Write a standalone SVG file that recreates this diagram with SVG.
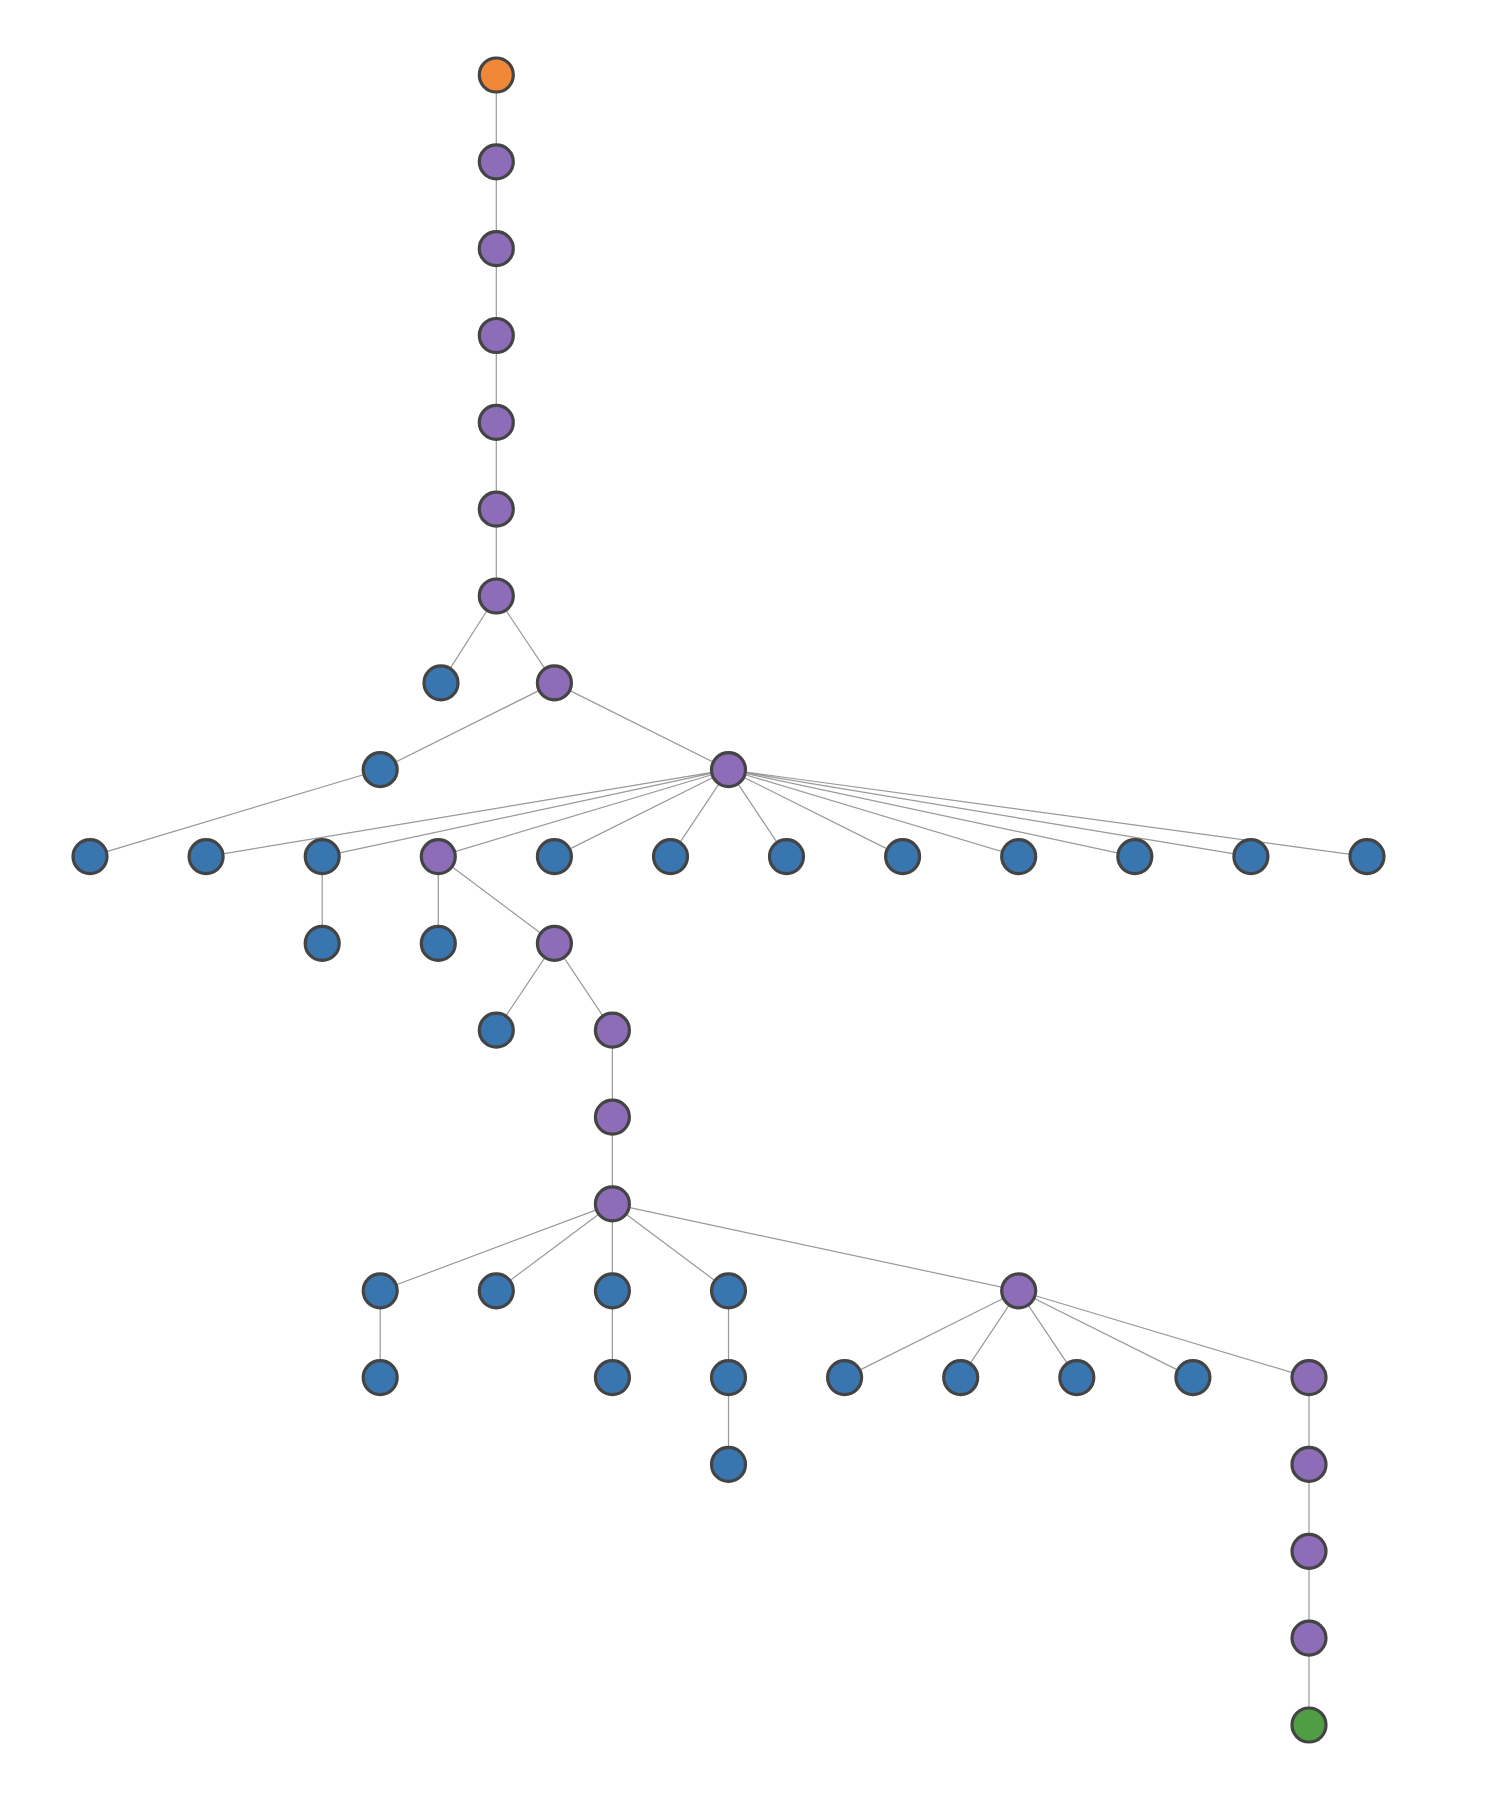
<svg xmlns="http://www.w3.org/2000/svg" width="1488" height="1808" viewBox="0 0 1488 1808">
<style>
.e{stroke:#999;stroke-width:1.2;fill:none}
.n circle{r:17px;stroke:#444;stroke-width:3.2}
.o{fill:#f08838}.p{fill:#8d6cb8}.b{fill:#3975ae}.g{fill:#509e44}
</style>
<rect width="1488" height="1808" fill="#fff"/>
<g id="edges">
<path class="e" d="M496.3 75V596"/>
<path class="e" d="M496.3 596L441 682.9M496.3 596L554.4 682.9"/>
<path class="e" d="M554.4 682.9L380.2 769.7M554.4 682.9L728.5 769.7M380.2 769.7L90 856.6"/>
<path class="e" d="M728.5 769.7L206.1 856.6M728.5 769.7L322.2 856.6M728.5 769.7L438.3 856.6M728.5 769.7L554.4 856.6M728.5 769.7L670.5 856.6M728.5 769.7L786.5 856.6M728.5 769.7L902.6 856.6M728.5 769.7L1018.7 856.6M728.5 769.7L1134.8 856.6M728.5 769.7L1250.9 856.6M728.5 769.7L1367 856.6"/>
<path class="e" d="M322.2 856.6V943.4M438.3 856.6V943.4M438.3 856.6L554.4 943.4"/>
<path class="e" d="M554.4 943.4L496.3 1030.2M554.4 943.4L612.4 1030.2M612.4 1030.2V1203.9"/>
<path class="e" d="M612.4 1203.9L380.2 1290.8M612.4 1203.9L496.3 1290.8M612.4 1203.9L612.4 1290.8M612.4 1203.9L728.5 1290.8M612.4 1203.9L1018.7 1290.8"/>
<path class="e" d="M380.2 1290.8V1377.6M612.4 1290.8V1377.6M728.5 1290.8V1464.4"/>
<path class="e" d="M1018.7 1290.8L844.6 1377.6M1018.7 1290.8L960.7 1377.6M1018.7 1290.8L1076.8 1377.6M1018.7 1290.8L1192.9 1377.6M1018.7 1290.8L1309 1377.6"/>
<path class="e" d="M1309 1377.6V1725"/>
</g>
<g class="n">
<g id="n0"><circle class="o" cx="496.3" cy="75"/></g>
<g id="n1"><circle class="p" cx="496.3" cy="161.8"/></g>
<g id="n2"><circle class="p" cx="496.3" cy="248.7"/></g>
<g id="n3"><circle class="p" cx="496.3" cy="335.5"/></g>
<g id="n4"><circle class="p" cx="496.3" cy="422.4"/></g>
<g id="n5"><circle class="p" cx="496.3" cy="509.2"/></g>
<g id="n6"><circle class="p" cx="496.3" cy="596"/></g>
<g id="n7"><circle class="b" cx="441" cy="682.9"/></g>
<g id="n8"><circle class="p" cx="554.4" cy="682.9"/></g>
<g id="n9"><circle class="b" cx="380.2" cy="769.7"/></g>
<g id="n10"><circle class="p" cx="728.5" cy="769.7"/></g>
<g id="n11"><circle class="b" cx="90" cy="856.6"/></g>
<g id="n12"><circle class="b" cx="206.1" cy="856.6"/></g>
<g id="n13"><circle class="b" cx="322.2" cy="856.6"/></g>
<g id="n14"><circle class="p" cx="438.3" cy="856.6"/></g>
<g id="n15"><circle class="b" cx="554.4" cy="856.6"/></g>
<g id="n16"><circle class="b" cx="670.5" cy="856.6"/></g>
<g id="n17"><circle class="b" cx="786.5" cy="856.6"/></g>
<g id="n18"><circle class="b" cx="902.6" cy="856.6"/></g>
<g id="n19"><circle class="b" cx="1018.7" cy="856.6"/></g>
<g id="n20"><circle class="b" cx="1134.8" cy="856.6"/></g>
<g id="n21"><circle class="b" cx="1250.9" cy="856.6"/></g>
<g id="n22"><circle class="b" cx="1367" cy="856.6"/></g>
<g id="n23"><circle class="b" cx="322.2" cy="943.4"/></g>
<g id="n24"><circle class="b" cx="438.3" cy="943.4"/></g>
<g id="n25"><circle class="p" cx="554.4" cy="943.4"/></g>
<g id="n26"><circle class="b" cx="496.3" cy="1030.2"/></g>
<g id="n27"><circle class="p" cx="612.4" cy="1030.2"/></g>
<g id="n28"><circle class="p" cx="612.4" cy="1117.1"/></g>
<g id="n29"><circle class="p" cx="612.4" cy="1203.9"/></g>
<g id="n30"><circle class="b" cx="380.2" cy="1290.8"/></g>
<g id="n31"><circle class="b" cx="496.3" cy="1290.8"/></g>
<g id="n32"><circle class="b" cx="612.4" cy="1290.8"/></g>
<g id="n33"><circle class="b" cx="728.5" cy="1290.8"/></g>
<g id="n34"><circle class="p" cx="1018.7" cy="1290.8"/></g>
<g id="n35"><circle class="b" cx="380.2" cy="1377.6"/></g>
<g id="n36"><circle class="b" cx="612.4" cy="1377.6"/></g>
<g id="n37"><circle class="b" cx="728.5" cy="1377.6"/></g>
<g id="n38"><circle class="b" cx="844.6" cy="1377.6"/></g>
<g id="n39"><circle class="b" cx="960.7" cy="1377.6"/></g>
<g id="n40"><circle class="b" cx="1076.8" cy="1377.6"/></g>
<g id="n41"><circle class="b" cx="1192.9" cy="1377.6"/></g>
<g id="n42"><circle class="p" cx="1309" cy="1377.6"/></g>
<g id="n43"><circle class="b" cx="728.5" cy="1464.4"/></g>
<g id="n44"><circle class="p" cx="1309" cy="1464.4"/></g>
<g id="n45"><circle class="p" cx="1309" cy="1551.3"/></g>
<g id="n46"><circle class="p" cx="1309" cy="1638.1"/></g>
<g id="n47"><circle class="g" cx="1309" cy="1725"/></g>
</g>
</svg>
